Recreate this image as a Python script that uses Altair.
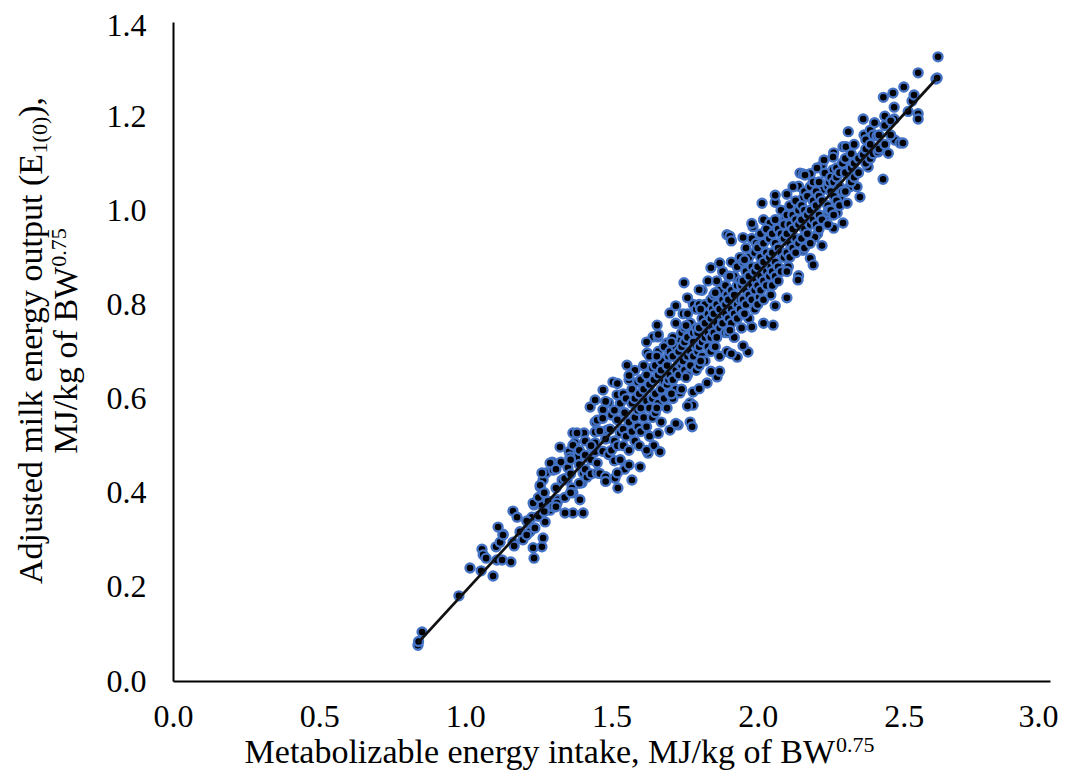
import altair as alt
import pandas as pd

low_pts = [
    (0.838, 0.076), (0.840, 0.084), (0.852, 0.104), (0.978, 0.181),
    (1.016, 0.240), (1.054, 0.234), (1.095, 0.223), (1.057, 0.280), (1.061, 0.268), (1.071, 0.261),
    (1.108, 0.257), (1.126, 0.257), (1.156, 0.253), (1.105, 0.285), (1.119, 0.295), (1.129, 0.312),
    (1.112, 0.327), (1.163, 0.361), (1.177, 0.348), (1.163, 0.295), (1.167, 0.287), (1.187, 0.317),
    (1.197, 0.300), (1.129, 0.310),
    (1.215, 0.336), (1.221, 0.317), (1.232, 0.283), (1.235, 0.261), (1.262, 0.285), (1.266, 0.304),
    (1.238, 0.325), (1.228, 0.348), (1.273, 0.338), (1.235, 0.374), (1.262, 0.374), (1.283, 0.382),
    (1.290, 0.363), (1.256, 0.412), (1.266, 0.427), (1.276, 0.442), (1.297, 0.465), (1.300, 0.448),
    (1.327, 0.465), (1.317, 0.385), (1.300, 0.370), (1.324, 0.497), (1.355, 0.487), (1.368, 0.527),
    (1.406, 0.527), (1.375, 0.506), (1.331, 0.427), (1.348, 0.427), (1.351, 0.453), (1.365, 0.410),
    (1.368, 0.400), (1.382, 0.476), (1.403, 0.442), (1.399, 0.421), (1.416, 0.433), (1.403, 0.357),
    (1.368, 0.357), (1.341, 0.357), (1.392, 0.385), (1.427, 0.582), (1.444, 0.597), (1.444, 0.550),
    (1.444, 0.529), (1.444, 0.506), (1.444, 0.487), (1.232, 0.378), (1.314, 0.378), (1.262, 0.442),
    (1.256, 0.416), (1.290, 0.463), (1.382, 0.527), (1.358, 0.476), (1.368, 0.501),
    (1.21, 0.34), (1.21, 0.31), (1.25, 0.35), (1.25, 0.39), (1.27, 0.36), (1.27, 0.40),
    (1.31, 0.41), (1.31, 0.37), (1.31, 0.45), (1.34, 0.43), (1.34, 0.39), (1.36, 0.44),
    (1.36, 0.47), (1.36, 0.40), (1.39, 0.46), (1.39, 0.49), (1.39, 0.42), (1.41, 0.48),
    (1.41, 0.45), (1.41, 0.51), (1.43, 0.47), (1.43, 0.50), (1.43, 0.44),
]

mid_pts = [
    (1.451, 0.554), (1.451, 0.463), (1.451, 0.442), (1.471, 0.618), (1.471, 0.576), (1.485, 0.533),
    (1.46, 0.441), (1.46, 0.531), (1.47, 0.488), (1.47, 0.558), (1.48, 0.434), (1.48, 0.514),
    (1.49, 0.591), (1.49, 0.481), (1.495, 0.535),
    (1.505, 0.635), (1.519, 0.608), (1.522, 0.410), (1.512, 0.431), (1.553, 0.671),
    (1.50, 0.49), (1.50, 0.565), (1.51, 0.51), (1.51, 0.575), (1.51, 0.468), (1.52, 0.555),
    (1.52, 0.50), (1.53, 0.59), (1.53, 0.527), (1.53, 0.47), (1.54, 0.61), (1.54, 0.535),
    (1.54, 0.50), (1.545, 0.57), (1.545, 0.45),
    (1.57, 0.427), (1.598, 0.455),
    (1.55, 0.52), (1.55, 0.60), (1.56, 0.55), (1.56, 0.64), (1.56, 0.49), (1.57, 0.59),
    (1.57, 0.53), (1.57, 0.62), (1.58, 0.56), (1.58, 0.66), (1.58, 0.51), (1.58, 0.60),
    (1.59, 0.575), (1.59, 0.54), (1.59, 0.635), (1.595, 0.61), (1.595, 0.50),
    (1.625, 0.484), (1.622, 0.697), (1.642, 0.731),
    (1.60, 0.58), (1.60, 0.64), (1.60, 0.53), (1.61, 0.62), (1.61, 0.56), (1.61, 0.67),
    (1.62, 0.595), (1.62, 0.65), (1.62, 0.54), (1.63, 0.63), (1.63, 0.58), (1.63, 0.69),
    (1.63, 0.52), (1.64, 0.60), (1.64, 0.665), (1.64, 0.56), (1.645, 0.64), (1.645, 0.50),
    (1.666, 0.487), (1.69, 0.603), (1.69, 0.718), (1.656, 0.756), (1.659, 0.731), (1.70, 0.533),
    (1.70, 0.782),
    (1.65, 0.61), (1.65, 0.67), (1.65, 0.57), (1.66, 0.65), (1.66, 0.59), (1.66, 0.70),
    (1.67, 0.62), (1.67, 0.68), (1.67, 0.55), (1.67, 0.66), (1.68, 0.635), (1.68, 0.71),
    (1.68, 0.60), (1.69, 0.67), (1.69, 0.63), (1.69, 0.58), (1.695, 0.69), (1.695, 0.64),
    (1.728, 0.544), (1.734, 0.612), (1.734, 0.724), (1.748, 0.846),
    (1.70, 0.65), (1.70, 0.70), (1.70, 0.61), (1.71, 0.69), (1.71, 0.64), (1.71, 0.73),
    (1.71, 0.60), (1.72, 0.66), (1.72, 0.71), (1.72, 0.76), (1.72, 0.62), (1.73, 0.70),
    (1.73, 0.65), (1.73, 0.675), (1.74, 0.67), (1.74, 0.74), (1.74, 0.62), (1.74, 0.71),
    (1.745, 0.68), (1.745, 0.78),
    (1.769, 0.550), (1.769, 0.591), (1.779, 0.614), (1.779, 0.724), (1.776, 0.540), (1.779, 0.586),
    (1.75, 0.72), (1.75, 0.66), (1.75, 0.75), (1.76, 0.69), (1.76, 0.73), (1.76, 0.65),
    (1.76, 0.78), (1.77, 0.70), (1.77, 0.76), (1.77, 0.67), (1.78, 0.74), (1.78, 0.69),
    (1.78, 0.80), (1.78, 0.72), (1.79, 0.71), (1.79, 0.75), (1.79, 0.66), (1.79, 0.79),
    (1.795, 0.74), (1.795, 0.70),
    (1.827, 0.633),
    (1.80, 0.75), (1.80, 0.71), (1.80, 0.80), (1.80, 0.67), (1.81, 0.72), (1.81, 0.77),
    (1.81, 0.69), (1.81, 0.83), (1.82, 0.76), (1.82, 0.73), (1.82, 0.80), (1.82, 0.68),
    (1.83, 0.74), (1.83, 0.78), (1.83, 0.71), (1.83, 0.85), (1.84, 0.77), (1.84, 0.73),
    (1.84, 0.81), (1.84, 0.70), (1.845, 0.75), (1.845, 0.79),
    (1.861, 0.646), (1.895, 0.948), (1.905, 0.945),
    (1.85, 0.78), (1.85, 0.74), (1.85, 0.82), (1.85, 0.71), (1.86, 0.76), (1.86, 0.80),
    (1.86, 0.73), (1.86, 0.85), (1.87, 0.79), (1.87, 0.75), (1.87, 0.83), (1.87, 0.69),
    (1.88, 0.77), (1.88, 0.81), (1.88, 0.76), (1.88, 0.87), (1.89, 0.80), (1.89, 0.74),
    (1.89, 0.84), (1.89, 0.78), (1.895, 0.82), (1.895, 0.70),
    (1.93, 0.688),
    (1.90, 0.81), (1.90, 0.77), (1.90, 0.86), (1.90, 0.74), (1.91, 0.79), (1.91, 0.83),
    (1.91, 0.76), (1.91, 0.89), (1.92, 0.82), (1.92, 0.78), (1.92, 0.86), (1.92, 0.73),
    (1.93, 0.84), (1.93, 0.80), (1.93, 0.88), (1.93, 0.77), (1.94, 0.81), (1.94, 0.85),
    (1.94, 0.79), (1.94, 0.90), (1.945, 0.84), (1.945, 0.75),
    (1.967, 0.699), (1.984, 0.965),
    (1.95, 0.85), (1.95, 0.81), (1.95, 0.89), (1.95, 0.78), (1.96, 0.83), (1.96, 0.87),
    (1.96, 0.80), (1.96, 0.92), (1.97, 0.86), (1.97, 0.82), (1.97, 0.90), (1.97, 0.77),
    (1.98, 0.84), (1.98, 0.88), (1.98, 0.81), (1.98, 0.94), (1.99, 0.87), (1.99, 0.83),
    (1.99, 0.91), (1.99, 0.79), (1.995, 0.85), (1.995, 0.93),
]

high_pts = [
    (2.015, 1.015), (2.042, 0.973), (2.053, 0.756),
    (2.00, 0.88), (2.00, 0.84), (2.00, 0.92), (2.00, 0.80), (2.01, 0.86), (2.01, 0.90),
    (2.01, 0.83), (2.01, 0.95), (2.02, 0.89), (2.02, 0.85), (2.02, 0.93), (2.02, 0.81),
    (2.03, 0.87), (2.03, 0.91), (2.03, 0.84), (2.03, 0.96), (2.04, 0.90), (2.04, 0.86),
    (2.04, 0.94), (2.045, 0.88), (2.045, 0.82),
    (2.06, 1.032), (2.087, 0.952), (2.094, 0.984),
    (2.05, 0.91), (2.05, 0.87), (2.05, 0.95), (2.05, 0.84), (2.06, 0.89), (2.06, 0.93),
    (2.06, 0.86), (2.06, 0.98), (2.07, 0.92), (2.07, 0.88), (2.07, 0.96), (2.07, 0.85),
    (2.08, 0.91), (2.08, 0.95), (2.08, 0.87), (2.08, 1.00), (2.09, 0.94), (2.09, 0.90),
    (2.09, 0.97),
    (2.121, 1.050), (2.121, 0.994), (2.138, 0.852), (2.145, 1.079),
    (2.10, 0.95), (2.10, 0.91), (2.10, 0.99), (2.10, 0.87), (2.11, 0.93), (2.11, 0.97),
    (2.11, 0.90), (2.11, 1.01), (2.12, 0.96), (2.12, 0.92), (2.12, 0.99), (2.13, 0.94),
    (2.13, 0.98), (2.13, 0.91), (2.13, 1.02), (2.14, 0.97), (2.14, 0.93), (2.14, 1.00),
    (2.155, 1.077), (2.162, 1.075), (2.162, 0.965), (2.19, 0.884), (2.196, 0.943),
    (2.15, 0.98), (2.15, 0.94), (2.15, 1.01), (2.16, 0.96), (2.16, 1.00), (2.16, 0.92),
    (2.16, 1.04), (2.17, 0.99), (2.17, 0.95), (2.17, 1.03), (2.18, 1.00), (2.18, 0.97),
    (2.18, 1.05), (2.18, 0.93), (2.19, 0.98), (2.19, 1.02), (2.19, 1.06),
    (2.203, 1.090), (2.22, 1.043), (2.23, 1.079), (2.227, 1.107), (2.23, 0.979), (2.24, 0.996),
    (2.20, 1.01), (2.20, 0.97), (2.20, 1.04), (2.21, 0.99), (2.21, 1.03), (2.21, 0.96),
    (2.21, 1.06), (2.22, 1.02), (2.22, 0.98), (2.24, 1.05), (2.24, 1.01), (2.24, 0.97),
    (2.245, 1.06), (2.245, 1.00),
    (2.258, 1.086), (2.258, 1.113), (2.265, 1.050), (2.272, 0.994), (2.282, 1.028),
    (2.292, 0.973), (2.292, 1.135),
    (2.25, 1.04), (2.25, 1.00), (2.25, 1.07), (2.26, 1.03), (2.26, 1.06), (2.26, 0.99),
    (2.27, 1.07), (2.27, 1.02), (2.27, 1.09), (2.28, 1.05), (2.28, 1.08), (2.28, 1.01),
    (2.29, 1.04), (2.29, 1.10),
    (2.302, 1.135), (2.306, 1.015), (2.31, 1.167), (2.316, 1.050), (2.34, 1.050), (2.343, 1.081),
    (2.30, 1.08), (2.30, 1.04), (2.30, 1.11), (2.32, 1.09), (2.32, 1.06), (2.32, 1.12),
    (2.33, 1.10), (2.33, 1.07), (2.33, 1.14), (2.345, 1.11), (2.345, 1.08),
    (2.35, 1.028), (2.361, 1.118), (2.361, 1.194), (2.364, 1.160), (2.378, 1.092),
    (2.37, 1.13), (2.37, 1.10), (2.37, 1.15), (2.385, 1.14), (2.385, 1.11), (2.385, 1.17),
    (2.395, 1.12), (2.395, 1.16),
    (2.40, 1.186), (2.408, 1.158), (2.412, 1.124), (2.429, 1.066), (2.43, 1.240), (2.447, 1.121),
    (2.415, 1.16), (2.415, 1.13), (2.435, 1.18), (2.435, 1.14), (2.435, 1.20),
    (2.463, 1.249), (2.467, 1.219), (2.467, 1.194), (2.47, 1.149), (2.487, 1.143),
    (2.497, 1.143), (2.50, 1.262), (2.455, 1.19), (2.455, 1.16),
    (2.528, 1.232), (2.549, 1.292), (2.549, 1.205), (2.549, 1.194), (2.61, 1.279),
    (2.617, 1.326), (2.614, 1.281), (2.515, 1.21), (2.535, 1.245),
]

# Points along the outer edges of the band
edge_pts = [
    (1.48, 0.594), (1.48, 0.424), (1.52, 0.632), (1.52, 0.442), (1.56, 0.459), (1.56, 0.649),
    (1.62, 0.72), (1.62, 0.49), (1.66, 0.526), (1.66, 0.736), (1.72, 0.797), (1.72, 0.547),
    (1.76, 0.814), (1.76, 0.584), (1.80, 0.831), (1.80, 0.621), (1.84, 0.878), (1.84, 0.658),
    (1.87, 0.888), (1.87, 0.658), (1.91, 0.935), (1.91, 0.695), (1.95, 0.942), (1.95, 0.712),
    (1.98, 0.972), (1.98, 0.752), (2.02, 0.98), (2.02, 0.76), (2.06, 1.017), (2.06, 0.797),
    (2.10, 1.034), (2.10, 0.814), (2.14, 1.051), (2.14, 0.861), (2.18, 1.078), (2.18, 0.898),
    (2.22, 1.095), (2.22, 0.925), (2.26, 1.122), (2.26, 0.962),
    (1.655, 0.69), (1.655, 0.58), (1.705, 0.72), (1.705, 0.61), (1.755, 0.755), (1.755, 0.645),
    (1.805, 0.79), (1.805, 0.68), (1.855, 0.825), (1.855, 0.71), (1.905, 0.86), (1.905, 0.745),
    (1.955, 0.895), (1.955, 0.78), (2.005, 0.925), (2.005, 0.815), (2.055, 0.96), (2.055, 0.845),
    (2.105, 0.99), (2.105, 0.88), (2.155, 1.025), (2.155, 0.915), (2.205, 1.055), (2.205, 0.95),
]

# Fitted regression line end points
fit_mei = [0.838, 2.614]
fit_milk = [0.081, 1.281]

x_ticks = [0.0, 0.5, 1.0, 1.5, 2.0, 2.5, 3.0]
y_ticks = [0.0, 0.2, 0.4, 0.6, 0.8, 1.0, 1.2, 1.4]

FONT = "Liberation Serif"
BIG = 34
SMALL = 22

pts = pd.DataFrame(low_pts + mid_pts + edge_pts + high_pts, columns=["mei", "milk"])
fit = pd.DataFrame({"mei": fit_mei, "milk": fit_milk})

x_enc = alt.X(
    "mei:Q",
    scale=alt.Scale(domain=[0, 3], nice=False, zero=False),
    axis=alt.Axis(
        values=x_ticks, format=".1f", grid=False, ticks=False, tickSize=0,
        domainColor="#000000", domainWidth=2,
        labelFont=FONT, labelFontSize=32, labelColor="#000000", labelPadding=20,
        labelFlush=False, labelOverlap=False,
        labelOffset={"condition": {"test": "datum.value == 3", "value": -12}, "value": 0},
        title=None,
    ),
)
y_enc = alt.Y(
    "milk:Q",
    scale=alt.Scale(domain=[0, 1.4], nice=False, zero=False),
    axis=alt.Axis(
        values=y_ticks, format=".1f", grid=False, ticks=False, tickSize=0,
        domainColor="#000000", domainWidth=2,
        labelFont=FONT, labelFontSize=32, labelColor="#000000", labelPadding=27,
        labelFlush=False, labelOverlap=False,
        labelOffset={"condition": {"test": "datum.value == 1.4", "value": 3}, "value": 0},
        title=None,
    ),
)

points = alt.Chart(pts).mark_circle(
    size=80, fill="#000000", stroke="#4472C4", strokeWidth=2.4, opacity=1
).encode(x=x_enc, y=y_enc)

line = alt.Chart(fit).mark_line(color="#111111", strokeWidth=2.8).encode(x=x_enc, y=y_enc)


def piece(txt, px, py, size, align="left", angle=0):
    kw = dict(align=align, baseline="alphabetic", font=FONT, fontSize=size, color="#000000")
    if angle:
        kw["angle"] = angle
    return alt.Chart(pd.DataFrame({"t": [txt]})).mark_text(**kw).encode(
        text="t:N", x=alt.value(px), y=alt.value(py)
    )


# Axis titles with real sub/superscripts (positions relative to the plot's top-left corner)
titles = [
    piece("Metabolizable energy intake, MJ/kg of BW", 662, 741, BIG, align="right"),
    piece("0.75", 663, 730, SMALL),
    piece("Adjusted milk energy output (E", -131, 562, BIG, angle=270),
    piece("1(0)", -126, 131.4, SMALL, angle=270),
    piece("),", -131, 94.7, BIG, angle=270),
    piece("MJ/kg of BW", -96, 431.8, BIG, angle=270),
    piece("0.75", -107, 244.8, SMALL, angle=270),
]

chart = (
    alt.layer(points, line, *titles)
    .properties(
        width=877, height=659,
        autosize=alt.AutoSizeParams(type="none"),
        padding={"left": 165, "top": 14, "right": 12, "bottom": 95},
        background="white",
    )
    .configure_view(strokeWidth=0)
)

chart.save("out.html", embed_options={"renderer": "svg", "actions": False})
